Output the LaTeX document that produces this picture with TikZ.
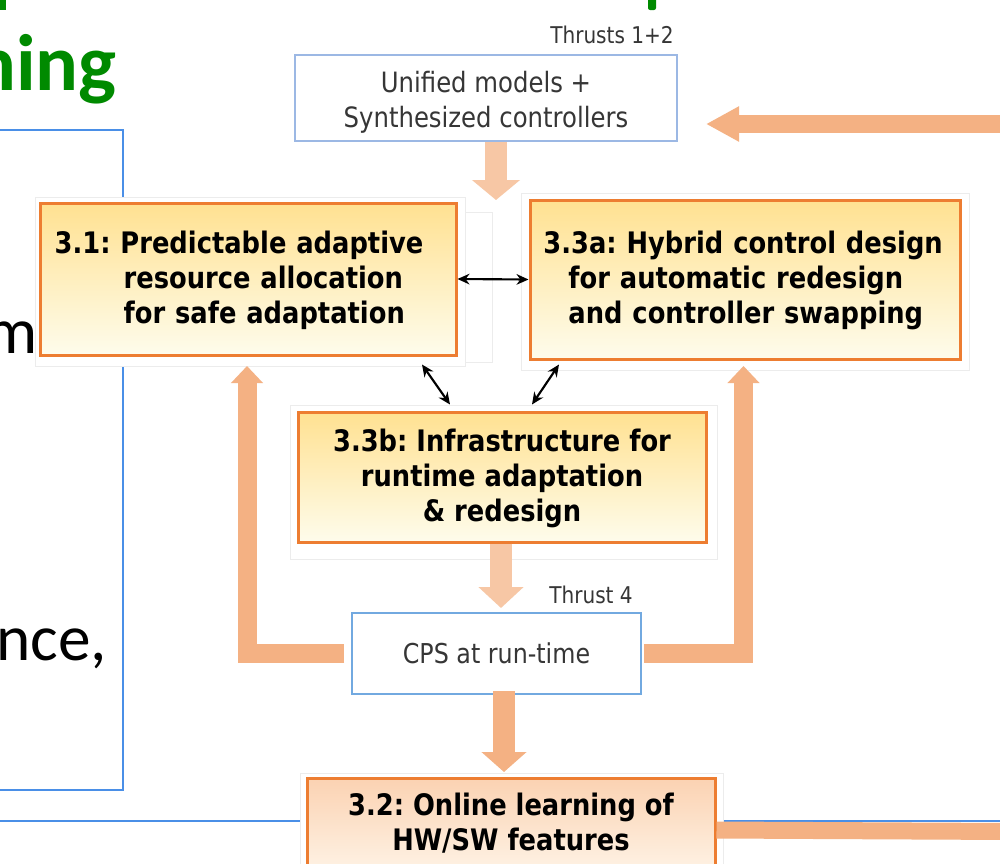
\documentclass[tikz,border=0pt]{standalone}
\usepackage{fontspec}
\usetikzlibrary{arrows.meta,shadows,calc}
\newfontfamily\dvs[FakeStretch=0.87]{DejaVu Sans}
\newfontfamily\calfont{Carlito}
\definecolor{tangerine}{HTML}{ED7D31}
\definecolor{salmon}{HTML}{F4B183}
\definecolor{peach}{HTML}{F7C7A5}
\definecolor{frameblue}{HTML}{4A8FE7}
\definecolor{softblue}{HTML}{9CB8E4}
\definecolor{cpsblue}{HTML}{72A9E0}
\definecolor{titlegreen}{HTML}{008A00}
\definecolor{panelgray}{HTML}{ECECEC}
\definecolor{labelgray}{HTML}{363636}
\definecolor{taskhi}{RGB}{255,225,145}
\definecolor{tasklo}{RGB}{254,252,236}
\definecolor{learnhi}{RGB}{251,210,178}
\definecolor{learnlo}{RGB}{254,242,228}
% lower a block of lines without changing the size it reports
\newcommand\droplines[2]{\raisebox{-#1}[\height][\depth]{\begin{tabular}{@{}c@{}}#2\end{tabular}}}
\newcommand\dropleft[2]{\raisebox{-#1}[\height][\depth]{\begin{tabular}{@{}l@{}}#2\end{tabular}}}

\begin{document}
\frenchspacing
\hyphenpenalty=10000
\begin{tikzpicture}[x=0.75pt,y=-0.75pt,
  panel/.style={draw=panelgray, line width=0.75pt, fill=white},
  taskbox/.style={draw=tangerine, line width=2.25pt, top color=taskhi, bottom color=tasklo,
    drop shadow={shadow xshift=1.5pt, shadow yshift=-1.5pt, opacity=0.3, fill=black!60},
    inner ysep=0pt, font=\dvs\bfseries\fontsize{22.2}{26.25}\selectfont},
  learnbox/.style={taskbox, top color=learnhi, bottom color=learnlo},
  infobox/.style={draw, fill=white, line width=1.5pt, text=labelgray, align=center,
    inner sep=0pt, font=\dvs\fontsize{21}{26.25}\selectfont},
  thrust/.style={text=labelgray, inner sep=0pt, font=\dvs\fontsize{17.3}{20}\selectfont},
  fat/.style={line width=#1, draw=salmon, line join=miter},
  link/.style={{Stealth[length=9pt,width=8pt]}-{Stealth[length=9pt,width=8pt]}, line width=1.6pt, black},
  slidetext/.style={inner sep=0pt, font=\calfont\fontsize{49}{49}\selectfont}]

\useasboundingbox (0,0) rectangle (1000,864);
\fill[white] (0,0) rectangle (1000,864);

% slide title and body fragments
\fill[titlegreen] (-2,-2) rectangle (6,10);
\fill[titlegreen, rounded corners=1.5pt] (648,-6) rectangle (656,10);
\node[anchor=base east, inner sep=0pt, text=titlegreen,
  font=\calfont\bfseries\fontsize{60}{60}\selectfont] (ttl) at (117,90) {ning};
\draw[frameblue, line width=2pt] (-5,130) -- (123,130) -- (123,790) -- (-5,790);
\draw[frameblue, line width=2pt] (-5,821) -- (1005,821);
\node[slidetext, anchor=base east] (frag1) at (38,353) {m};
\node[slidetext, anchor=base west] (frag2) at (-4,660) {nce,};

% faint frames behind the task boxes
\draw[panel] (35,197) rectangle (465,366);
\draw[panel] (465,212) rectangle (492,362);
\draw[panel] (521,193) rectangle (969,370);
\draw[panel] (290,405) rectangle (717,559);
\draw[panel] (300,773) rectangle (723,900);

% inputs and run-time system
\node[thrust, anchor=base east] (th12) at (674,43) {Thrusts 1+2};
\node[infobox, draw=softblue, minimum width=286.5pt, minimum height=64.5pt] (uni) at (486,98)
  {\droplines{3.5pt}{Unified models +\\Synthesized controllers}};
\node[thrust, anchor=base east] (th4) at (633,603) {Thrust 4};
\node[infobox, draw=cpsblue, minimum width=216.75pt, minimum height=60.75pt,
  font=\dvs\fontsize{20.5}{26.25}\selectfont] (cps) at (496.5,653.5) {CPS at run-time};

% task boxes
\node[taskbox, minimum width=312pt, minimum height=114pt, text width=290pt, align=left,
  inner xsep=11pt] (b31) at (248,279)
  {\dropleft{1.5pt}{3.1: Predictable adaptive\\\hspace*{51.75pt}resource allocation\\\hspace*{51.75pt}for safe adaptation}};
\node[taskbox, minimum width=322.5pt, minimum height=119.25pt, text width=302.3pt, align=left,
  inner xsep=10.1pt] (b33a) at (745,279.5)
  {\dropleft{1.5pt}{3.3a: Hybrid control design\\\hspace*{18.75pt}for automatic redesign\\\hspace*{18.75pt}and controller swapping}};
\node[taskbox, minimum width=306pt, minimum height=97.5pt, align=center, inner xsep=0pt] (b33b) at (502,477)
  {\droplines{2pt}{3.3b: Infrastructure for\\runtime adaptation\\\& redesign}};
\node[learnbox, minimum width=306pt, minimum height=69pt, align=center, inner xsep=0pt] (b32) at (511,824)
  {\droplines{1.5pt}{3.2: Online learning of\\HW/SW features}};

% broad flow arrows
\coordinate (unitip) at (496,200);
\coordinate (cpstip) at (501,608);
\coordinate (learntip) at (504,772);
\coordinate (ltip) at (247,366);
\coordinate (rtip) at (743.5,366);
\coordinate (trin) at (1012,124);
\coordinate (trtip) at (706,124);
\coordinate (brout) at (1012,831.5);

\draw[fat=16.5pt, draw=peach, -{Triangle[length=15pt,width=35.25pt]}] ($(uni.south)+(10,0)$) -- (unitip);
\draw[fat=16.5pt, draw=peach, -{Triangle[length=15.75pt,width=33pt]}] ($(b33b.south)+(-1,0)$) -- (cpstip);
\draw[fat=16.5pt, -{Triangle[length=15pt,width=33pt]}] ($(cps.south)+(7.5,-4)$) -- (learntip);
\draw[fat=14.25pt, -{Triangle[length=12.75pt,width=23.25pt]}] ($(cps.west)+(-7,0)$) -| (ltip);
\draw[fat=14.25pt, -{Triangle[length=12.75pt,width=23.25pt]}] ($(cps.east)+(2,0)$) -| (rtip);
\draw[fat=13.5pt, -{Triangle[length=24.75pt,width=24.75pt]}] (trin) -- (trtip);
\draw[fat=12.75pt] ($(b32.north east)+(0,53.5)$) -- (brout);

% interactions between tasks
\draw[link] (b31.east) -- (b33a.west);
\draw[link] ($(b31.south)+(174,8)$) -- ($(b33b.north)+(-52,-6)$);
\draw[link] ($(b33a.south)+(-186,4)$) -- ($(b33b.north)+(30,-6)$);
\end{tikzpicture}
\end{document}
